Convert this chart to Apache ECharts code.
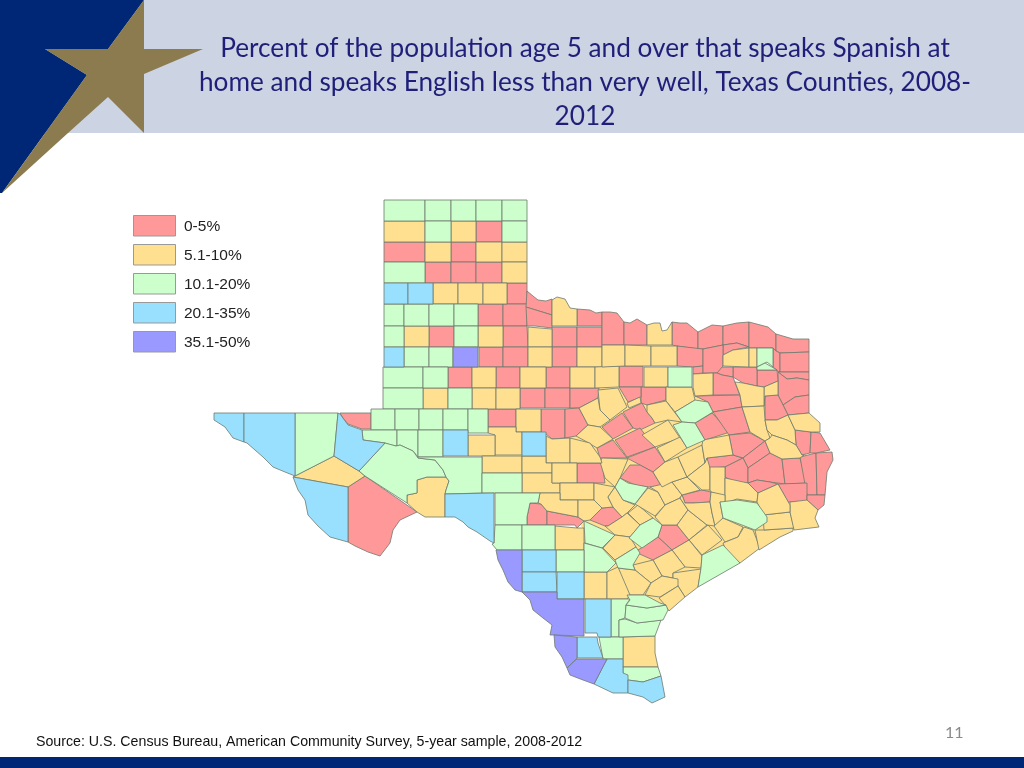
<!DOCTYPE html>
<html>
<head>
<meta charset="utf-8">
<title>Texas counties</title>
<style>
  html, body { margin: 0; padding: 0; background: #fff; }
  #main { width: 1024px; height: 768px; }
</style>
<script src="https://cdn.jsdelivr.net/npm/echarts@6/dist/echarts.min.js"></script>
</head>
<body>
<div id="main"></div>
<script>
const titleText = "Percent of the population age 5 and over that speaks Spanish at\nhome and speaks English less than very well, Texas Counties, 2008-\n2012";
const sourceText = "Source: U.S. Census Bureau, American Community Survey, 5-year sample, 2008-2012";
const pageNumber = "11";

const bandLabels = ["0-5%", "5.1-10%", "10.1-20%", "20.1-35%", "35.1-50%"];
const bandMin = [0, 5.1, 10.1, 20.1, 35.1];
const bandMax = [5, 10, 20, 35, 50];
const bandValues = [3, 8, 15, 28, 42]; // rough value for each class
const bandColors = ["#ff9999", "#ffe090", "#ccffcc", "#99e0ff", "#9999ff"];

// county outlines, one flat x,y list per county, grouped by class
const shapes0to5 = [
  [476,221,502,221,502,242,476,242],[384,242,425,242,425,262,384,262],[451,242,476,242,476,262,451,262],
  [425,262,451,262,451,283,425,283],[451,262,476,262,476,283,451,283],[476,262,502,262,502,283,476,283],
  [507,283,527,283,527,304,507,304],[478,304,503,304,503,326,478,326],[503,304,527,304,527,326,503,326],
  [527,291,533,296,538,300,546,301,552,299,552,315,526,307],[526,307,552,315,552,328,535,326,527,326],
  [577,309,590,310,596,313,602,312,602,326,577,326],[552,327,577,327,577,347,552,347],[577,327,602,327,602,347,577,347],
  [503,326,527,326,528,347,503,347],[429,326,454,326,454,347,429,347],[479,347,503,347,503,367,479,367],
  [503,347,528,347,528,367,503,367],[552,347,577,347,577,367,552,367],[448,367,472,367,472,388,448,388],
  [496,367,520,367,520,388,496,388],[546,367,570,367,570,388,546,388],[520,388,545,388,545,408,520,408],
  [545,388,570,388,570,408,545,408],[570,388,599,388,598,398,579,408,570,408],[488,409,516,409,516,427,488,427],
  [541,409,565,409,565,438,552,439,546,434,541,432],[565,409,579,408,588,425,576,436,565,438],
  [602,312,610,312,617,313,624,322,624,345,602,345],[624,322,630,323,637,319,647,325,647,345,624,345],
  [672,322,680,323,687,323,698,332,698,349,677,346,672,345],[698,332,712,325,723,326,723,345,703,349,698,349],
  [723,326,737,323,749,322,749,347,737,343,723,345],[723,345,737,343,749,347,733,350,723,355],
  [749,322,768,327,776,334,776,351,773,348,749,348],[776,334,793,339,809,339,809,352,780,353,776,351],
  [773,348,776,351,780,353,780,372,778,372,777,370,773,367],[780,353,809,352,809,372,780,372],
  [778,372,809,372,809,380,797,378,787,379],[778,372,787,379,797,378,809,380,809,395,795,397,783,405,778,395],
  [783,405,795,397,809,395,809,413,788,415],[765,396,778,395,783,405,788,415,777,420,765,420],
  [757,370,777,370,778,381,764,387,757,386],[733,367,757,367,757,386,743,383,733,377],
  [717,373,718,367,733,367,733,377,722,375],[677,346,703,349,703,366,693,367,677,366],
  [693,367,703,366,703,373,693,374],[703,349,723,345,723,366,717,373,703,373],
  [713,373,717,373,722,375,733,377,739,393,740,395,713,395],[619,366,643,366,643,387,619,387],
  [641,387,666,387,666,400,647,405,641,403],[619,387,641,387,641,397,628,402],
  [695,396,740,395,742,407,713,412,708,402],[695,423,712,413,730,432,705,440],
  [713,412,742,407,750,432,729,435],[623,412,642,403,647,412,652,418,655,423,640,430,633,428],
  [602,427,622,413,633,428,613,439],[615,440,640,428,655,447,627,457],
  [627,458,655,447,665,462,653,472,640,465],[597,448,613,440,627,458,600,458],
  [620,478,630,465,640,465,653,472,662,487,648,487,635,485],[577,463,602,463,605,483,577,483],
  [530,503,541,504,547,511,547,525,527,525,527,517],[547,511,578,517,584,521,577,528,575,525,547,525],
  [590,520,602,508,613,507,622,517,608,526,605,526],[658,537,662,525,677,525,689,540,672,550],
  [635,552,658,537,672,550,653,560],[682,495,702,490,711,492,710,502,693,503,685,503],
  [707,458,733,455,743,458,733,463,725,467,708,468],[729,435,750,433,765,441,743,458,733,455],
  [743,458,765,441,770,453,748,468],[725,467,733,463,743,458,748,468,748,483,735,482,725,477],
  [748,468,770,453,782,459,785,484,770,482,757,480,748,483],[748,483,757,480,770,482,778,484,758,493],
  [782,459,800,458,807,483,785,484],[800,457,816,453,817,495,807,495],
  [816,453,832,452,833,460,827,472,825,495,817,495],[778,484,807,483,807,502,788,502],
  [807,495,825,495,824,505,818,510,807,500],[795,430,811,432,810,453,802,455,796,445],
  [811,432,820,433,830,450,816,453,810,453],[340,413,371,413,371,429,362,429,348,424,343,418],
  [348,487,365,476,417,512,400,520,393,530,390,543,380,556,368,552,355,546,348,542]
];
const shapes5to10 = [
  [384,221,425,221,425,242,384,242],[451,221,476,221,476,242,451,242],[425,242,451,242,451,262,425,262],
  [476,242,502,242,502,262,476,262],[502,242,527,242,527,262,502,262],[502,262,527,262,527,283,502,283],
  [433,283,458,283,458,304,433,304],[458,283,483,283,483,304,458,304],[483,283,507,283,507,304,483,304],
  [404,326,429,326,429,347,404,347],[478,326,503,326,503,347,478,347],[528,327,552,329,552,347,528,347],
  [552,300,557,297,565,299,570,308,577,309,577,326,552,326],[528,347,552,347,552,367,528,367],
  [577,347,602,347,602,367,577,367],[472,367,496,367,496,388,472,388],[520,367,546,367,546,388,520,388],
  [570,367,595,367,595,388,570,388],[595,367,619,366,619,387,595,388],[423,388,448,388,448,409,423,409],
  [472,388,496,388,496,409,472,409],[496,388,520,388,520,409,496,409],[602,345,625,345,625,366,602,367],
  [625,345,651,346,651,366,625,366],[651,346,677,346,677,366,651,366],
  [647,325,654,323,660,323,662,331,667,330,672,322,672,345,647,345],[644,367,668,367,668,387,644,387],
  [693,374,713,373,713,395,695,396,693,387],[723,355,733,350,749,348,749,367,723,366],
  [749,348,757,348,757,367,749,367],[764,387,778,381,778,395,765,396,764,406],
  [735,382,743,383,757,386,764,387,764,406,742,407,740,395],[627,403,640,397,641,403,629,408],
  [666,387,692,387,695,400,675,412,666,401],[647,405,666,401,682,422,668,420,655,423,652,418,647,412],
  [642,435,668,420,680,438,655,447],[657,448,680,437,687,448,665,462],
  [598,390,618,388,627,407,610,420,600,410],[579,408,598,398,600,410,610,420,600,427,588,425],
  [576,436,588,425,600,427,613,439,597,448,587,442],[602,458,628,459,620,478,615,487,605,478,600,462],
  [516,409,541,409,541,432,516,432],[488,427,516,427,516,432,522,432,522,455,495,455,495,435,488,433],
  [468,435,495,435,495,456,468,456],[546,436,552,439,570,438,570,463,546,463],
  [570,438,590,443,600,457,602,463,570,463],[482,456,522,456,522,473,482,473],
  [522,456,546,456,546,463,552,463,552,473,522,473],[522,473,552,473,552,483,560,483,560,493,522,493],
  [552,463,577,463,577,483,552,483],[560,483,594,483,594,500,560,500],
  [594,483,615,487,608,497,613,507,602,508,594,500],[615,487,623,500,635,505,627,513,622,517,613,507,608,497],
  [560,493,560,500,578,500,578,517,547,511,541,504,538,503,540,493],
  [578,500,594,500,602,508,590,520,584,521,578,517],[555,526,577,528,584,528,584,550,555,550],
  [427,477,446,477,449,481,446,490,445,494,445,517,425,517,417,512,407,503,407,495,417,493,417,480],
  [293,477,334,456,359,471,365,476,348,487],
  [605,526,608,526,622,517,627,513,640,525,630,537,615,535],[603,548,615,535,630,537,636,547,615,560],
  [628,513,638,505,653,518,640,525],[635,504,648,488,658,492,665,505,655,516],
  [650,487,672,482,682,495,680,498,665,505,658,492],[672,482,687,477,700,490,682,495],
  [655,517,665,505,680,498,688,510,677,525,662,525],[677,525,688,510,707,525,689,540],
  [680,498,682,495,685,503,693,503,710,502,712,513,715,526,707,525,688,510],[689,540,708,525,722,540,702,555],
  [672,550,689,540,702,556,701,568,685,567],[653,560,672,550,685,567,673,573,673,578,662,576],
  [673,573,701,569,698,587,685,597,678,586,673,578],[633,565,653,560,662,576,651,583,635,570],
  [618,568,635,570,651,583,643,595,627,595],[645,595,651,583,662,576,678,579,678,586,660,597,659,598],
  [659,598,678,586,685,597,669,611,665,605],[653,472,665,462,678,457,687,477,672,482,662,487],
  [678,457,702,445,705,463,687,477],[702,445,703,440,729,435,733,455,707,458,705,463],
  [687,477,705,463,707,458,710,468,710,490,702,490],[710,467,725,467,725,497,711,492,710,490],
  [725,478,748,483,758,493,757,502,737,499,725,503],[710,502,711,492,725,495,725,503,720,502,723,518,715,526,712,513],
  [714,526,723,518,743,527,738,537,725,542],[723,543,738,537,744,527,753,530,760,548,740,563,727,553],
  [755,530,765,530,793,528,793,531,780,537,759,550],[763,515,790,512,794,528,764,530],
  [790,502,807,500,818,510,815,518,819,527,794,530,790,512],[758,493,778,484,790,505,790,512,763,515,757,502],
  [742,407,764,406,765,420,767,430,770,438,765,441,750,432],
  [765,420,777,420,788,415,795,430,796,445,787,440,772,435,767,430],
  [788,415,809,413,820,423,820,432,811,432,795,430],
  [770,438,772,435,787,440,796,445,802,455,804,455,800,458,782,459,770,453,765,441],
  [584,572,607,572,607,599,584,599],[607,572,618,567,630,595,627,599,607,599],
  [623,637,655,636,655,653,658,667,623,667]
];
const shapes10to20 = [
  [384,200,425,200,425,221,384,221],[425,200,451,200,451,221,425,221],[451,200,476,200,476,221,451,221],
  [476,200,502,200,502,221,476,221],[502,200,527,200,527,221,502,221],[425,221,451,221,451,242,425,242],
  [502,221,527,221,527,242,502,242],[384,262,425,262,425,283,384,283],[384,304,404,304,404,326,384,326],
  [404,304,429,304,429,326,404,326],[429,304,454,304,454,326,429,326],[454,304,478,304,478,326,454,326],
  [384,326,404,326,404,347,384,347],[454,326,478,326,478,347,454,347],[404,347,429,347,429,367,404,367],
  [429,347,453,347,453,367,429,367],[383,367,423,367,423,388,383,388],[423,367,448,367,448,388,423,388],
  [383,388,423,388,423,409,383,409],[448,388,472,388,472,409,448,409],[371,409,395,409,395,430,371,430],
  [395,409,419,409,419,430,395,430],[419,409,443,409,443,430,419,430],[443,409,468,409,468,430,443,430],
  [468,409,488,409,488,433,468,433],[362,430,397,430,397,446,391,445,385,443,363,440],
  [397,430,418,430,418,457,413,451,400,445,397,446],[418,430,443,430,443,457,418,457],
  [295,413,338,413,334,456,295,476],
  [385,443,396,446,400,445,413,451,418,458,435,460,443,470,446,477,427,477,417,480,417,493,407,495,407,503,365,476,359,471],
  [418,457,482,457,482,493,445,494,446,490,449,481,446,477,443,470,435,460,418,458],
  [482,473,522,473,522,493,482,493],[495,493,540,493,538,503,530,503,527,517,527,525,495,525],
  [495,525,522,525,522,550,497,550,492,544,494,543],[522,525,555,525,555,550,522,550],
  [584,521,615,535,602,548,585,543],[584,543,602,548,616,563,607,572,584,572],
  [556,550,584,550,584,572,556,572],[615,560,636,547,640,553,633,565,635,570,618,568],
  [668,367,692,367,692,387,668,387],[757,348,773,348,773,367,767,362,757,367],[757,367,765,363,777,370,757,370],
  [675,412,695,400,708,402,713,412,695,423,682,422],[673,425,682,422,695,423,705,440,687,448],
  [615,487,620,478,628,483,648,487,635,504,623,500],[629,538,640,525,653,518,662,525,658,537,642,548],
  [720,502,737,500,757,503,767,517,767,522,755,530,742,525,723,518],
  [702,555,723,545,740,563,698,587,701,568],[611,599,630,599,626,605,625,618,619,620,619,637,611,637],
  [599,637,623,637,623,659,603,659],[619,620,625,619,637,623,661,620,655,636,619,637],
  [626,605,647,608,666,605,668,610,663,620,637,623,625,618],[627,595,645,595,660,603,666,605,647,608,626,605,630,600],
  [623,667,658,667,661,676,643,682,628,680,623,675]
];
const shapes20to35 = [
  [384,283,408,283,408,304,384,304],[408,283,433,283,433,304,408,304],[384,347,404,347,404,367,384,367],
  [443,430,468,430,468,456,443,456],[522,432,546,432,546,456,522,456],
  [214,413,244,413,244,442,233,438,225,427,214,420],
  [244,413,295,413,295,476,285,472,273,467,263,457,247,443,244,442],
  [338,413,340,414,348,425,362,430,363,440,385,443,359,471,334,456],
  [293,477,348,487,348,542,330,537,318,526,308,515,305,500,298,490],
  [445,494,494,493,494,543,490,541,477,532,468,527,463,522,455,517,445,517],
  [522,550,556,550,556,572,522,572],[522,572,556,572,557,592,522,592],[557,572,584,572,584,599,557,599],
  [585,599,611,599,611,637,598,637,597,633,585,633],[577,637,597,637,598,643,603,658,577,658],
  [607,659,623,659,623,673,628,675,628,693,613,693,594,684],
  [628,680,643,682,661,676,665,697,652,703,643,697,628,693]
];
const shapes35to50 = [
  [453,347,478,347,478,367,453,367],[496,550,522,550,522,592,515,590,508,582,503,570,498,560],
  [522,592,557,592,557,599,584,599,584,636,553,635,550,635,552,625,543,618,533,610,530,600],
  [554,635,577,637,577,658,567,668,562,657,555,647],[567,668,577,659,607,659,594,684,583,680,570,675]
];
const shapesByBand = [shapes0to5, shapes5to10, shapes10to20, shapes20to35, shapes35to50];
// sits under the counties of the east, my outlines do not tile perfectly there
const interiorFill = [570,388,760,388,800,420,815,500,760,545,700,585,665,606,625,600,584,560,584,530,560,500];

const toRing = flat => {
  const ring = [];
  for (let k = 0; k < flat.length; k += 2) ring.push([flat[k], 768 - flat[k + 1]]);
  ring.push(ring[0]);
  return ring;
};
const toFeature = (name, flat) => ({ type: "Feature", properties: { name }, geometry: { type: "Polygon", coordinates: [toRing(flat)] } });

const features = [toFeature("interior", interiorFill)];
const countyData = [{ name: "interior", value: bandValues[1], itemStyle: { borderWidth: 0 } }];
shapesByBand.forEach((list, band) => {
  list.forEach((flat, i) => {
    const name = "c" + band + "_" + i;
    features.push(toFeature(name, flat));
    countyData.push({ name, value: bandValues[band] });
  });
});
echarts.registerMap("texas", { type: "FeatureCollection", features });

// map box follows the outline extents so the picture keeps its place on the slide
const allX = [], allY = [];
shapesByBand.flat().forEach(f => f.forEach((v, i) => (i % 2 ? allY : allX).push(v)));
const minX = Math.min(...allX), maxX = Math.max(...allX), minY = Math.min(...allY), maxY = Math.max(...allY);

const chart = echarts.init(document.getElementById("main"));
const navy = "#002776", gold = "#8b7b4e", band = "#ccd3e2";

chart.setOption({
  backgroundColor: "#fff",
  animation: false,
  title: {
    text: titleText,
    left: 585,
    top: 32,
    padding: 0,
    textAlign: "center",
    textStyle: { fontFamily: "Lato", fontWeight: "normal", fontSize: 26.2, lineHeight: 34, color: "#1f1f7a" }
  },
  visualMap: {
    type: "piecewise",
    left: 133,
    top: 218,
    orient: "vertical",
    inverse: true,
    itemWidth: 43,
    itemHeight: 17,
    itemGap: 12,
    itemSymbol: "rect",
    textGap: 8,
    selectedMode: false,
    hoverLink: false,
    padding: 0,
    textStyle: { fontFamily: "Liberation Sans", fontSize: 15.5, color: "#222" },
    pieces: bandLabels.map((label, i) => ({ min: bandMin[i], max: bandMax[i], label, color: bandColors[i] }))
  },
  series: [{
    type: "map",
    map: "texas",
    aspectScale: 1,
    left: minX,
    top: minY,
    width: maxX - minX,
    height: maxY - minY,
    roam: false,
    silent: true,
    label: { show: false },
    emphasis: { disabled: true },
    itemStyle: { borderColor: "#6d7a6d", borderWidth: 0.8 },
    data: countyData
  }],
  graphic: [
    { type: "rect", z: -10, silent: true, shape: { x: 0, y: 0, width: 1024, height: 133 }, style: { fill: band } },
    { type: "rect", z: -10, silent: true, shape: { x: 0, y: 757, width: 1024, height: 11 }, style: { fill: navy } },
    { type: "polygon", z: -9, silent: true, shape: { points: [[0, 0], [144, 0], [108, 49], [45, 49], [87, 75], [2, 193], [0, 193]] }, style: { fill: navy } },
    { type: "polygon", z: -9, silent: true, shape: { points: [[144, 0], [108, 49], [45, 49], [87, 75], [2, 193], [68, 133], [108, 97], [144, 133], [144, 74], [203, 49], [144, 49]] }, style: { fill: gold } },
    { type: "text", silent: true, x: 36, y: 735, style: { text: sourceText, fontFamily: "Liberation Sans", fontSize: 14.2, fill: "#111" } },
    { type: "text", silent: true, x: 945, y: 725, style: { text: pageNumber, fontFamily: "Lato", fontSize: 16, fill: "#8a8a8a" } }
  ].concat(bandLabels.map((label, i) => ({
    type: "rect", z: 100, silent: true,
    shape: { x: 133.5, y: 215.5 + i * 29, width: 42, height: 20.5 },
    style: { fill: bandColors[i], stroke: "#999", lineWidth: 1 }
  })))
});
</script>
</body>
</html>
